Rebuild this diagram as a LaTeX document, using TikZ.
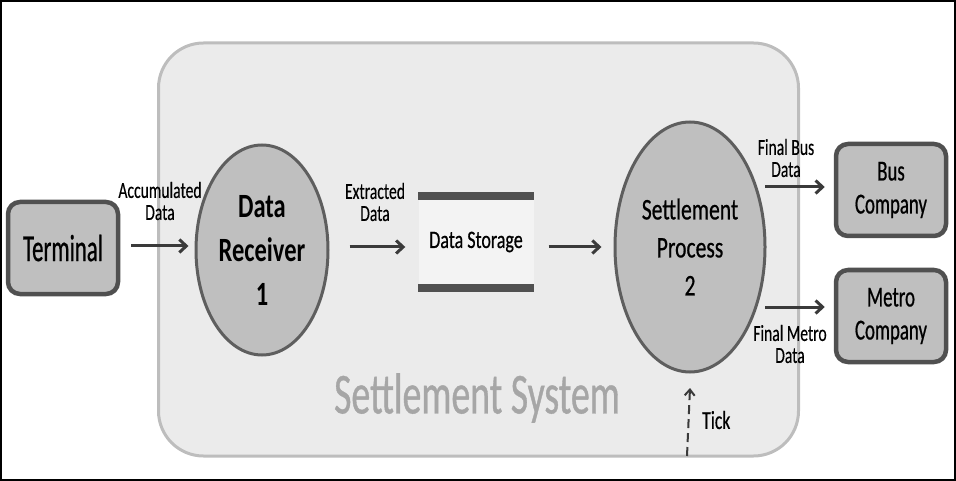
\documentclass[tikz,border=0pt]{standalone}
\usepackage{fontspec}
\setmainfont[FakeStretch=0.72]{Carlito}
\newfontfamily\fA[FakeStretch=0.60,FakeBold=0.6]{Carlito}
\newfontfamily\fB[FakeStretch=0.65,FakeBold=0.6]{Carlito}
\newfontfamily\fC[FakeStretch=0.68,FakeBold=0.3]{Carlito}
\newfontfamily\fD[FakeStretch=0.72,FakeBold=0.6]{Carlito}
\newfontfamily\fE[FakeStretch=0.72]{Carlito}
\usetikzlibrary{arrows.meta,shapes.geometric}
\definecolor{sysfill}{HTML}{EBEBEB}
\definecolor{sysline}{HTML}{BDBDBD}
\definecolor{boxfill}{HTML}{BFBFBF}
\definecolor{boxline}{HTML}{505050}
\definecolor{elline}{HTML}{5E5E5E}
\definecolor{arrcol}{HTML}{3A3A3A}
\definecolor{systext}{HTML}{A6A6A6}
\definecolor{storefill}{HTML}{F3F3F3}
\tikzset{
  sysbox/.style={draw=sysline, line width=3pt, fill=sysfill, rounded corners=45pt, minimum width=640pt, minimum height=413pt, inner sep=0pt},
  entbox/.style={draw=boxline, line width=4.5pt, fill=boxfill, rounded corners=12pt, minimum width=110pt, minimum height=92pt, inner sep=0pt, align=center},
  procell/.style={ellipse, draw=elline, line width=3pt, fill=boxfill, inner sep=0pt, align=center},
  storebox/.style={fill=storefill, minimum width=115pt, minimum height=92pt, inner sep=0pt},
  bar/.style={draw=boxline, line width=8pt},
  arr/.style={draw=arrcol, line width=3pt, -{Straight Barb[length=7pt,width=13pt,line width=3pt]}},
  lbl/.style={align=center, inner sep=0pt, font=\fC\fontsize{23}{22}\selectfont, text=black}
}
\begin{document}
\begin{tikzpicture}[x=1pt,y=-1pt]
\useasboundingbox (0,0) rectangle (956,481);
\draw[black, line width=1.5pt] (1,1) rectangle (955,480);
\node[sysbox] (sys) at (478.5,249.5) {};
\node[text=systext, font=\fB\fontsize{58}{60}\selectfont, inner sep=0pt] (systitle) at (477,398) {Settlement System};
\node[entbox, font=\fA\fontsize{38}{36}\selectfont] (term) at (63,248) {Terminal};
\node[entbox, font=\fB\fontsize{29}{33}\selectfont] (bus) at (891,190) {Bus\\Company};
\node[entbox, font=\fB\fontsize{29}{33}\selectfont] (metro) at (891,316) {Metro\\Company};
\node[procell, minimum width=132pt, minimum height=210pt, font=\fE\bfseries\fontsize{34}{44}\selectfont] (recv) at (262,250) {Data\\Receiver\\1};
\node[procell, minimum width=150pt, minimum height=250pt, font=\fD\fontsize{30}{38}\selectfont] (proc) at (690,247) {Settlement\\Process\\2};
\node[storebox, font=\fD\fontsize{25}{26}\selectfont] (store) at (476,242) {Data Storage};
\draw[bar] (store.north west) -- (store.north east);
\draw[bar] (store.south west) -- (store.south east);
\draw[arr, shorten <=11pt, shorten >=6pt] (term.east |- 0,246) -- (recv.west |- 0,246);
\draw[arr, shorten <=20pt, shorten >=13pt] (recv.east |- 0,247) -- (store.west |- 0,247);
\draw[arr, shorten <=15pt, shorten >=12pt] (store.east |- 0,247) -- (proc.west |- 0,247);
\draw[arr, shorten >=9pt] (765,187) coordinate (pb) -- (bus.west |- pb);
\draw[arr, shorten >=9pt] (765,307) coordinate (pm) -- (metro.west |- pm);
\draw[arrcol, line width=2pt, dashed, dash pattern=on 9pt off 5pt, -{Straight Barb[length=6pt,width=10pt,line width=2pt]}] (687,456) coordinate (tickstart) -- (proc.south |- 0,388);
\node[lbl] (l1) at (160,201) {Accumulated\\Data};
\node[lbl] (l2) at (375,202) {Extracted\\Data};
\node[lbl] (l3) at (786,158) {Final Bus\\Data};
\node[lbl] (l4) at (790,344) {Final Metro\\Data};
\node[lbl, anchor=west, font=\fC\fontsize{26}{26}\selectfont] (l5) at (702,420) {Tick};
\end{tikzpicture}
\end{document}
